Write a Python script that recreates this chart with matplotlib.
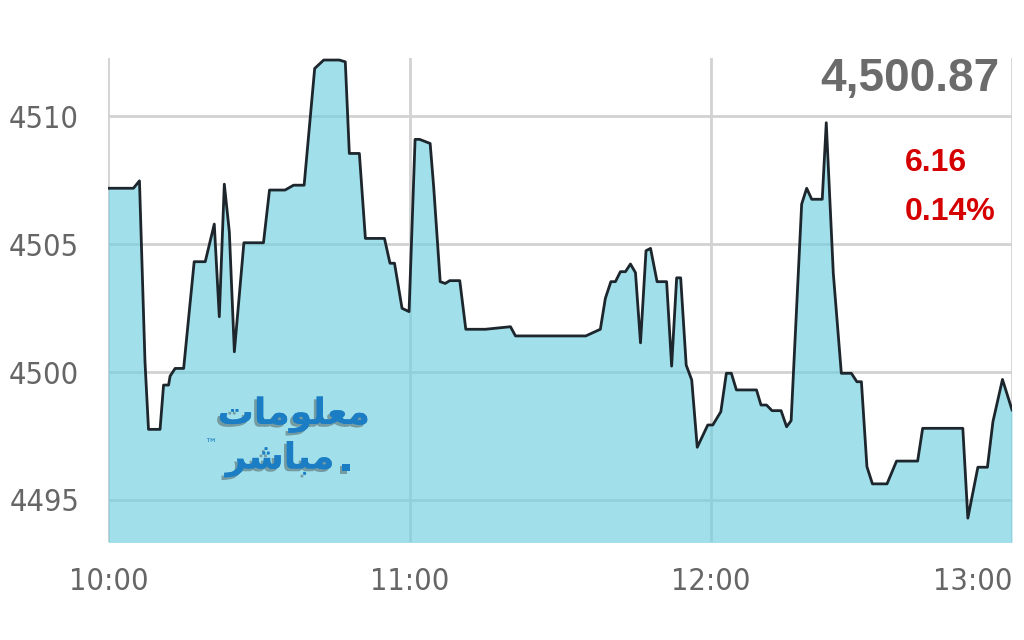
import matplotlib
matplotlib.use("Agg")
import matplotlib.pyplot as plt
import matplotlib.patheffects as pe
from matplotlib import font_manager

# minutes after 10:00 and index level
minutes = [0, 5.0, 6.2, 7.3, 8.0, 10.3, 11.0, 12.0, 12.3, 13.3, 15.0, 17.1, 19.3, 21.1,
           22.1, 23.1, 24.1, 25.1, 27.0, 30.9, 32.1, 35.2, 36.9, 39.0, 41.1, 42.9, 46.0,
           47.2, 48.0, 50.0, 51.2, 55.0, 56.1, 57.0, 58.5, 59.9, 61.1, 62.0, 64.1, 64.8,
           66.1, 67.1, 68.0, 70.0, 71.2, 75.1, 80.1, 81.1, 95.1, 98.0, 99.0, 100.1, 101.0,
           102.0, 103.0, 104.0, 105.0, 106.0, 107.1, 108.0, 109.3, 111.2, 112.2, 113.2,
           114.0, 115.1, 116.2, 117.3, 119.4, 120.4, 122.0, 123.1, 124.1, 125.1, 129.1,
           130.0, 131.1, 132.2, 134.0, 135.1, 136.0, 138.1, 139.1, 140.1, 142.2, 143.0,
           144.4, 146.0, 148.0, 149.1, 150.0, 151.1, 152.2, 155.1, 157.0, 161.2, 162.2,
           170.2, 171.2, 173.2, 175.1, 176.2, 178.1, 180.0]
level = [4507.18, 4507.18, 4507.47, 4500.40, 4497.76, 4497.76, 4499.49, 4499.49, 4499.84,
         4500.14, 4500.14, 4504.31, 4504.31, 4505.78, 4502.16, 4507.34, 4505.48, 4500.79,
         4505.05, 4505.05, 4507.11, 4507.11, 4507.30, 4507.30, 4511.86, 4512.19, 4512.19,
         4512.12, 4508.54, 4508.54, 4505.22, 4505.22, 4504.25, 4504.25, 4502.49, 4502.36,
         4509.09, 4509.09, 4508.93, 4507.24, 4503.53, 4503.46, 4503.57, 4503.57, 4501.67,
         4501.67, 4501.77, 4501.41, 4501.41, 4501.67, 4502.88, 4503.53, 4503.53, 4503.92,
         4503.92, 4504.22, 4503.88, 4501.14, 4504.74, 4504.83, 4503.53, 4503.53, 4500.23,
         4503.68, 4503.68, 4500.27, 4499.69, 4497.06, 4497.93, 4497.93, 4498.45, 4499.95,
         4499.95, 4499.30, 4499.30, 4498.71, 4498.71, 4498.49, 4498.49, 4497.86, 4498.10,
         4506.56, 4507.18, 4506.75, 4506.75, 4509.74, 4503.86, 4499.95, 4499.95, 4499.62,
         4499.62, 4496.30, 4495.63, 4495.63, 4496.52, 4496.52, 4497.80, 4497.80, 4494.29,
         4496.28, 4496.28, 4498.06, 4499.71, 4498.52]

x_ticks = [0, 60, 120, 180]
x_labels = ["10:00", "11:00", "12:00", "13:00"]
y_ticks = [4495, 4500, 4505, 4510]

last_value = "4,500.87"
change = "6.16"
change_pct = "0.14%"
# Arabic logo, written in presentation forms in visual order
logo_top = "\uFE95\uFE8E\uFEE3\uFEEE\uFEE0\uFECC\uFEE3"
logo_bottom = "\uFEAE\uFEB7\uFE8E\uFE92\uFEE3"


def narrow_font():
    # look for any condensed face; fall back to plain DejaVu
    best = None
    for f in font_manager.fontManager.ttflist:
        name = f.name.lower()
        condensed = ("narrow" in name or "condensed" in name
                     or str(f.stretch).lower() in ("condensed", "semi-condensed",
                                                   "extra-condensed"))
        if condensed and f.style == "normal":
            score = 0 if f.weight in (300, 400, "normal", "light") else 1
            if best is None or score < best[0]:
                best = (score, f.fname)
    if best:
        return font_manager.FontProperties(fname=best[1])
    return font_manager.FontProperties(family="DejaVu Sans")


tick_prop = narrow_font()
is_narrow = tick_prop.get_file() is not None

fig = plt.figure(figsize=(10.24, 6.4), dpi=100)
ax = fig.add_axes([0.1058, 0.1536, 0.8825, 0.7558])

ax.fill_between(minutes, level, 4490, color="#6fd0e0", alpha=0.65, lw=0, zorder=2)
ax.plot(minutes, level, color="#1c262c", lw=2.0, zorder=3)

ax.set_xlim(0, 180)
ax.set_ylim(4493.37, 4512.27)
ax.set_xticks(x_ticks)
ax.set_xticklabels(x_labels)
ax.set_yticks(y_ticks)
for s in ax.spines.values():
    s.set_visible(False)
ax.grid(True, color="#d2d2d2", lw=2, zorder=1)
ax.set_axisbelow(True)
size = 22 if is_narrow else 18
ax.tick_params(length=0, pad=18, labelcolor="#666666")
ax.tick_params(axis="y", pad=21)
for lab in ax.get_xticklabels() + ax.get_yticklabels():
    lab.set_fontproperties(tick_prop)
    lab.set_fontsize(size)
ax.get_xticklabels()[-1].set_ha("right")

ax.text(0.9865, 1.002, last_value, transform=ax.transAxes, ha="right", va="top",
        fontsize=33, fontweight="bold", color="#6b6b6b", family="Liberation Sans",
        zorder=5)
ax.text(0.881, 0.752, change, transform=ax.transAxes, ha="left", va="bottom",
        fontsize=23, fontweight="bold", color="#d50000", family="Liberation Sans")
ax.text(0.881, 0.65, change_pct, transform=ax.transAxes, ha="left", va="bottom",
        fontsize=23, fontweight="bold", color="#d50000", family="Liberation Sans")

shadow = [pe.withSimplePatchShadow(offset=(-2, -2), shadow_rgbFace="#6a8a90", alpha=0.8),
          pe.Normal()]
ax.text(0.205, 0.262, logo_top, transform=ax.transAxes, ha="center", va="center",
        fontsize=26, fontweight="bold", color="#1b7ec4", family="DejaVu Sans",
        path_effects=shadow)
ax.text(0.19, 0.17, logo_bottom, transform=ax.transAxes, ha="center", va="center",
        fontsize=26, fontweight="bold", color="#1b7ec4", family="DejaVu Sans",
        path_effects=shadow)
ax.text(0.263, 0.17, ".", transform=ax.transAxes, ha="center", va="center",
        fontsize=30, fontweight="bold", color="#1b7ec4", path_effects=shadow)
ax.text(0.113, 0.2, "™", transform=ax.transAxes, ha="center", va="center",
        fontsize=9, color="#1b7ec4")

fig.savefig("out.png", dpi=100)
